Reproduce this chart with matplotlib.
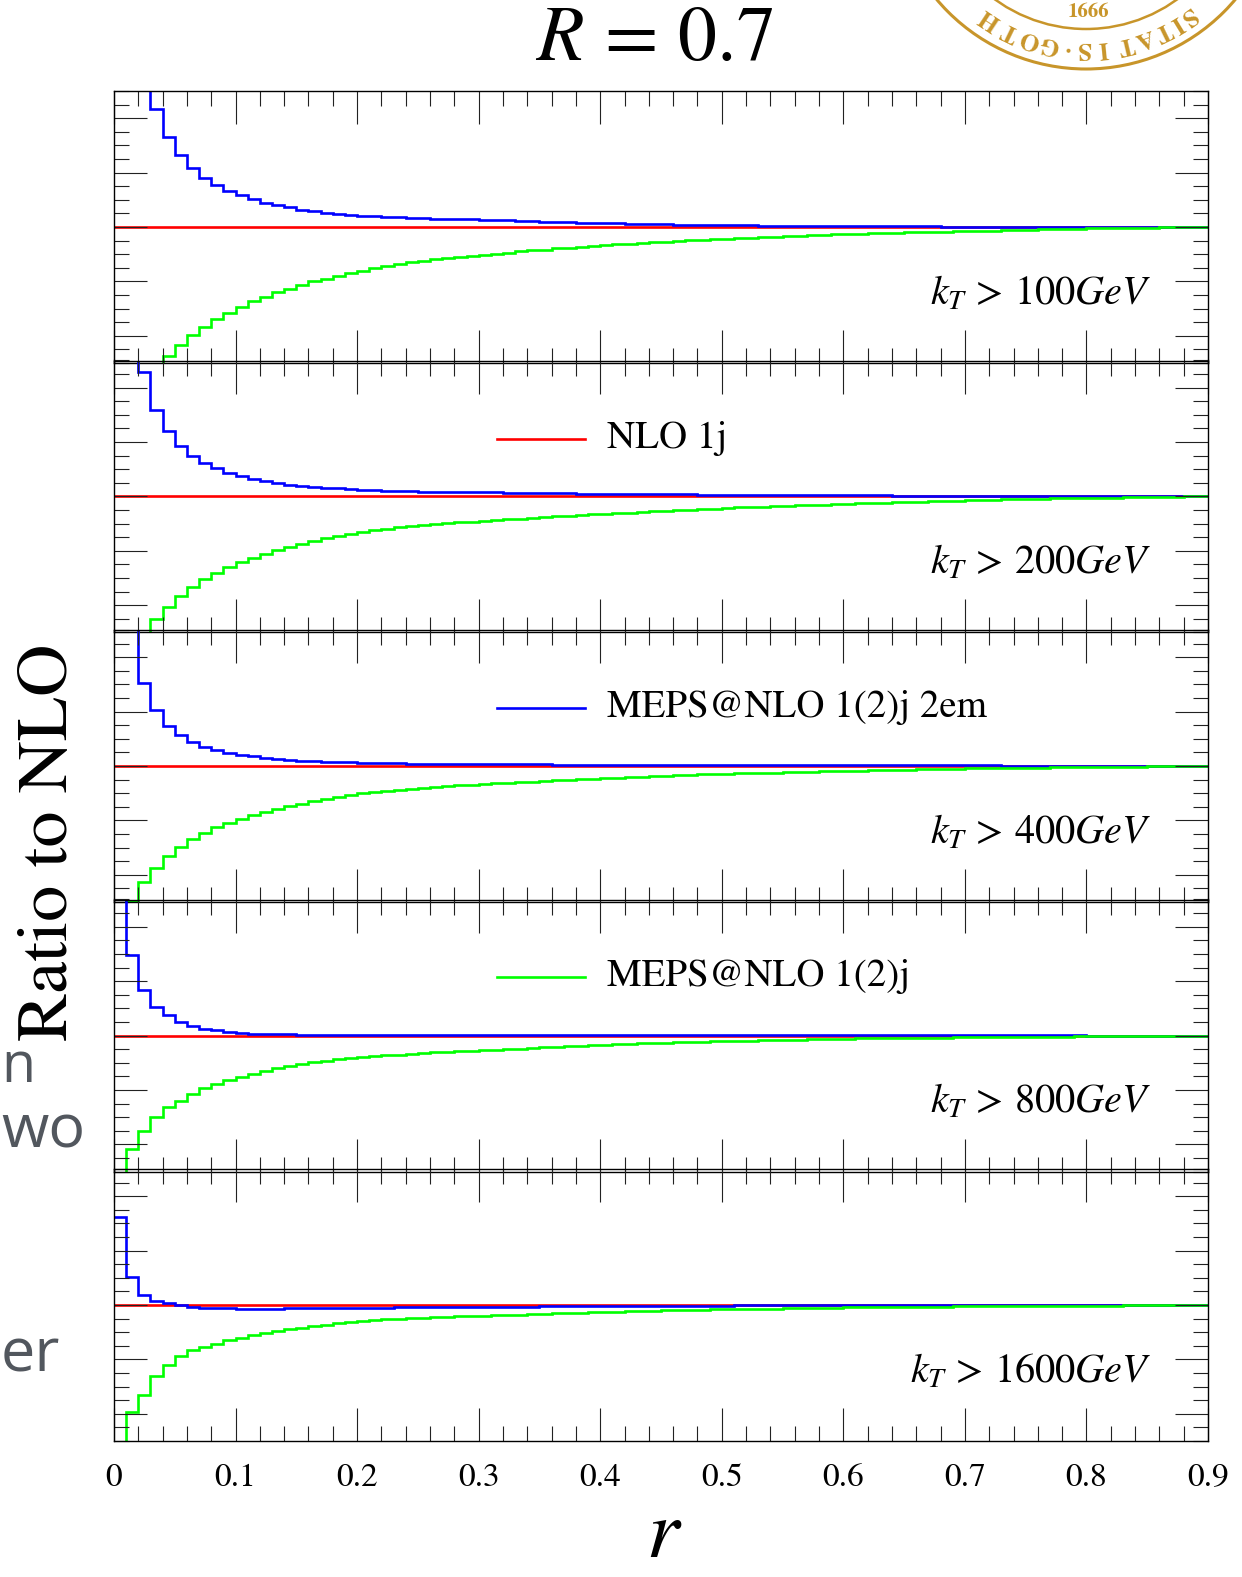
import numpy as np
import matplotlib
matplotlib.use("Agg")
import matplotlib.pyplot as plt
from matplotlib.patches import Arc
from matplotlib.ticker import MultipleLocator, FuncFormatter

plt.rcParams['mathtext.fontset'] = 'stix'
plt.rcParams['font.family'] = ['STIXGeneral', 'DejaVu Serif']

# ---------------- data ----------------
bin_edges = np.round(np.linspace(0.0, 0.9, 91), 3)
kt_cuts = ["100", "200", "400", "800", "1600"]
legend_labels = ["NLO 1j", "MEPS@NLO 1(2)j 2em", "MEPS@NLO 1(2)j"]

nlo_ratio = np.ones(90)

blue_100 = [2.60, 1.95, 1.62, 1.432, 1.331, 1.263, 1.216, 1.180, 1.154, 1.133,
            1.117, 1.102, 1.090, 1.080, 1.072, 1.064, 1.058, 1.053, 1.048, 1.044,
            1.041, 1.039, 1.037, 1.035, 1.034, 1.032, 1.031, 1.030, 1.029, 1.028,
            1.027, 1.025, 1.024, 1.022, 1.021, 1.020, 1.019, 1.018, 1.016, 1.015,
            1.014, 1.013, 1.012, 1.011, 1.011, 1.010, 1.009, 1.009, 1.008, 1.007,
            1.007, 1.006, 1.006, 1.005, 1.005, 1.005, 1.004, 1.004, 1.004, 1.003,
            1.003, 1.003, 1.003, 1.002, 1.002, 1.002, 1.002, 1.002, 1.001, 1.001,
            1.001, 1.001, 1.001, 1.001, 1.001, 1.001, 1.001, 1.001, 1.000, 1.000,
            1.000, 1.000, 1.000, 1.000, 1.000, 1.000, 1.000, 1.000, 1.000, 1.000]
green_100 = [0.20, 0.33, 0.43, 0.49, 0.525, 0.568, 0.602, 0.633, 0.662, 0.685,
             0.707, 0.727, 0.744, 0.760, 0.773, 0.786, 0.800, 0.810, 0.821, 0.831,
             0.840, 0.848, 0.856, 0.864, 0.870, 0.876, 0.881, 0.886, 0.890, 0.894,
             0.898, 0.902, 0.906, 0.910, 0.914, 0.917, 0.921, 0.924, 0.927, 0.930,
             0.933, 0.936, 0.939, 0.941, 0.944, 0.946, 0.949, 0.951, 0.953, 0.955,
             0.957, 0.959, 0.961, 0.963, 0.965, 0.967, 0.968, 0.970, 0.972, 0.973,
             0.975, 0.976, 0.977, 0.978, 0.979, 0.980, 0.981, 0.982, 0.983, 0.984,
             0.985, 0.986, 0.987, 0.988, 0.989, 0.990, 0.991, 0.992, 0.993, 0.994,
             0.995, 0.996, 0.997, 0.997, 0.998, 0.998, 0.999, 0.999, 1.000, 1.000]

blue_200 = [2.40, 1.75, 1.456, 1.319, 1.242, 1.186, 1.149, 1.123, 1.104, 1.088,
            1.075, 1.065, 1.057, 1.049, 1.044, 1.040, 1.036, 1.032, 1.030, 1.027,
            1.025, 1.023, 1.021, 1.020, 1.019, 1.018, 1.017, 1.017, 1.016, 1.016,
            1.015, 1.015, 1.014, 1.014, 1.013, 1.013, 1.012, 1.012, 1.011, 1.011,
            1.010, 1.010, 1.009, 1.009, 1.009, 1.008, 1.008, 1.008, 1.007, 1.007,
            1.007, 1.006, 1.006, 1.006, 1.006, 1.005, 1.005, 1.005, 1.005, 1.005,
            1.004, 1.004, 1.004, 1.004, 1.003, 1.003, 1.003, 1.003, 1.002, 1.002,
            1.002, 1.002, 1.002, 1.001, 1.001, 1.001, 1.001, 1.001, 1.001, 1.001,
            1.001, 1.000, 1.000, 1.000, 1.000, 1.000, 1.000, 1.000, 1.000, 1.000]
green_200 = [0.22, 0.38, 0.48, 0.551, 0.594, 0.635, 0.668, 0.695, 0.720, 0.741,
             0.759, 0.775, 0.790, 0.802, 0.815, 0.826, 0.836, 0.846, 0.854, 0.863,
             0.870, 0.876, 0.882, 0.887, 0.891, 0.895, 0.899, 0.902, 0.905, 0.908,
             0.911, 0.914, 0.917, 0.919, 0.922, 0.925, 0.928, 0.930, 0.933, 0.935,
             0.937, 0.939, 0.941, 0.943, 0.945, 0.947, 0.949, 0.951, 0.953, 0.955,
             0.958, 0.960, 0.961, 0.963, 0.964, 0.966, 0.967, 0.969, 0.970, 0.972,
             0.974, 0.975, 0.976, 0.977, 0.978, 0.980, 0.981, 0.982, 0.983, 0.984,
             0.986, 0.987, 0.988, 0.989, 0.990, 0.991, 0.992, 0.993, 0.993, 0.994,
             0.995, 0.996, 0.996, 0.997, 0.998, 0.998, 0.999, 0.999, 1.000, 1.000]

blue_400 = [2.50, 1.70, 1.304, 1.207, 1.148, 1.114, 1.088, 1.070, 1.057, 1.047,
            1.040, 1.035, 1.030, 1.026, 1.022, 1.020, 1.017, 1.016, 1.014, 1.013,
            1.012, 1.011, 1.010, 1.010, 1.009, 1.009, 1.008, 1.008, 1.008, 1.007,
            1.007, 1.007, 1.006, 1.006, 1.006, 1.006, 1.005, 1.005, 1.005, 1.005,
            1.005, 1.005, 1.004, 1.004, 1.004, 1.004, 1.004, 1.004, 1.004, 1.004,
            1.003, 1.003, 1.003, 1.003, 1.003, 1.003, 1.003, 1.003, 1.003, 1.003,
            1.003, 1.003, 1.002, 1.002, 1.002, 1.002, 1.002, 1.002, 1.002, 1.002,
            1.002, 1.002, 1.002, 1.001, 1.001, 1.001, 1.001, 1.001, 1.001, 1.001,
            1.001, 1.001, 1.000, 1.000, 1.000, 1.000, 1.000, 1.000, 1.000, 1.000]
green_400 = [0.30, 0.503, 0.572, 0.625, 0.668, 0.701, 0.730, 0.754, 0.774, 0.791,
             0.806, 0.820, 0.832, 0.842, 0.852, 0.862, 0.870, 0.878, 0.885, 0.893,
             0.899, 0.904, 0.909, 0.913, 0.917, 0.920, 0.923, 0.926, 0.929, 0.931,
             0.934, 0.936, 0.939, 0.941, 0.943, 0.945, 0.947, 0.949, 0.951, 0.953,
             0.955, 0.957, 0.959, 0.960, 0.962, 0.964, 0.966, 0.967, 0.969, 0.971,
             0.972, 0.973, 0.974, 0.975, 0.976, 0.977, 0.978, 0.979, 0.980, 0.981,
             0.982, 0.983, 0.984, 0.985, 0.986, 0.987, 0.988, 0.989, 0.990, 0.990,
             0.991, 0.992, 0.992, 0.993, 0.993, 0.994, 0.994, 0.995, 0.995, 0.996,
             0.996, 0.997, 0.997, 0.998, 0.998, 0.999, 0.999, 0.999, 1.000, 1.000]

blue_800 = [2.20, 1.295, 1.168, 1.106, 1.075, 1.051, 1.035, 1.025, 1.019, 1.014,
            1.010, 1.007, 1.005, 1.004, 1.004, 1.003, 1.003, 1.003, 1.003, 1.003,
            1.003, 1.003, 1.003, 1.003, 1.003, 1.003, 1.003, 1.003, 1.003, 1.003,
            1.003, 1.003, 1.003, 1.003, 1.003, 1.003, 1.003, 1.003, 1.003, 1.003,
            1.003, 1.003, 1.003, 1.003, 1.003, 1.002, 1.002, 1.002, 1.002, 1.002,
            1.002, 1.002, 1.002, 1.002, 1.002, 1.002, 1.002, 1.002, 1.002, 1.002,
            1.002, 1.002, 1.002, 1.002, 1.002, 1.002, 1.002, 1.002, 1.002, 1.002,
            1.001, 1.001, 1.001, 1.001, 1.001, 1.001, 1.001, 1.001, 1.001, 1.001,
            1.000, 1.000, 1.000, 1.000, 1.000, 1.000, 1.000, 1.000, 1.000, 1.000]
green_800 = [0.35, 0.584, 0.649, 0.699, 0.736, 0.760, 0.785, 0.807, 0.822, 0.836,
             0.848, 0.859, 0.870, 0.879, 0.889, 0.896, 0.903, 0.908, 0.913, 0.917,
             0.921, 0.924, 0.927, 0.930, 0.933, 0.936, 0.938, 0.940, 0.942, 0.944,
             0.946, 0.948, 0.950, 0.952, 0.954, 0.956, 0.958, 0.960, 0.962, 0.964,
             0.966, 0.968, 0.969, 0.971, 0.972, 0.973, 0.975, 0.976, 0.977, 0.978,
             0.979, 0.980, 0.981, 0.982, 0.983, 0.984, 0.985, 0.986, 0.987, 0.987,
             0.988, 0.989, 0.989, 0.990, 0.990, 0.991, 0.991, 0.992, 0.992, 0.993,
             0.993, 0.994, 0.994, 0.995, 0.995, 0.995, 0.996, 0.996, 0.996, 0.997,
             0.997, 0.997, 0.998, 0.998, 0.998, 0.999, 0.999, 0.999, 1.000, 1.000]

blue_1600 = [1.325, 1.102, 1.037, 1.015, 1.009, 1.000, 0.991, 0.989, 0.989, 0.988,
             0.987, 0.987, 0.987, 0.987, 0.988, 0.988, 0.988, 0.989, 0.989, 0.989,
             0.990, 0.990, 0.990, 0.991, 0.991, 0.991, 0.992, 0.992, 0.992, 0.993,
             0.993, 0.993, 0.994, 0.994, 0.994, 0.995, 0.995, 0.995, 0.996, 0.996,
             0.996, 0.997, 0.997, 0.997, 0.997, 0.998, 0.998, 0.998, 0.998, 0.998,
             0.998, 0.999, 0.999, 0.999, 0.999, 0.999, 0.999, 0.999, 0.999, 0.999,
             0.999, 0.999, 0.999, 0.999, 0.999, 0.999, 0.999, 0.999, 0.999, 0.999,
             0.999, 0.999, 0.999, 0.999, 0.999, 1.000, 1.000, 1.000, 1.000, 1.000,
             1.000, 1.000, 1.000, 1.000, 1.000, 1.000, 1.000, 1.000, 1.000, 1.000]
green_1600 = [0.40, 0.607, 0.670, 0.738, 0.781, 0.812, 0.835, 0.847, 0.858, 0.870,
              0.880, 0.889, 0.896, 0.904, 0.911, 0.917, 0.922, 0.928, 0.933, 0.937,
              0.941, 0.944, 0.947, 0.949, 0.951, 0.953, 0.955, 0.957, 0.958, 0.959,
              0.961, 0.962, 0.963, 0.965, 0.966, 0.967, 0.969, 0.970, 0.971, 0.973,
              0.975, 0.976, 0.977, 0.978, 0.979, 0.980, 0.981, 0.982, 0.983, 0.984,
              0.985, 0.986, 0.986, 0.987, 0.987, 0.988, 0.988, 0.989, 0.989, 0.990,
              0.991, 0.991, 0.992, 0.992, 0.993, 0.993, 0.993, 0.994, 0.994, 0.995,
              0.995, 0.995, 0.996, 0.996, 0.996, 0.997, 0.997, 0.997, 0.997, 0.998,
              0.998, 0.998, 0.998, 0.999, 0.999, 0.999, 0.999, 1.000, 1.000, 1.000]

blue_series = [blue_100, blue_200, blue_400, blue_800, blue_1600]
green_series = [green_100, green_200, green_400, green_800, green_1600]

# ---------------- figure ----------------
W, H = 1242, 1577
fig = plt.figure(figsize=(W / 100, H / 100), dpi=100)
fig.patch.set_facecolor('white')

RED, BLUE, GREEN = '#ff0000', '#0000ff', '#00ff00'
LW = 1.9
AX_L, AX_R, AX_T, STEP, PANEL_H = 114, 1208, 91, 269.5, 272


def tick_fmt(v, pos):
    if abs(v) < 1e-9:
        return "0"
    return f"{v:.1f}"


axes = []
for i in range(5):
    top = AX_T + STEP * i
    bot = top + PANEL_H
    ax = fig.add_axes([AX_L / W, 1 - bot / H, (AX_R - AX_L) / W, (bot - top) / H])
    ax.patch.set_alpha(0)
    axes.append(ax)
    ax.stairs(nlo_ratio, bin_edges, baseline=None, color=RED, lw=LW)
    ax.stairs(blue_series[i], bin_edges, baseline=None, color=BLUE, lw=LW)
    ax.stairs(green_series[i], bin_edges, baseline=None, color=GREEN, lw=LW)
    ax.set_xlim(0, 0.9)
    ax.set_ylim(0.5, 1.5)
    ax.xaxis.set_major_locator(MultipleLocator(0.1))
    ax.xaxis.set_minor_locator(MultipleLocator(0.02))
    ax.yaxis.set_major_locator(MultipleLocator(0.2))
    ax.yaxis.set_minor_locator(MultipleLocator(0.05))
    ax.tick_params(which='both', direction='in', top=True, right=True,
                   labelleft=False, labelbottom=(i == 4), color='#222222')
    ax.tick_params(which='major', length=24, width=0.8)
    ax.tick_params(which='minor', length=11, width=0.8)
    ax.tick_params(axis='x', which='major', labelsize=24, pad=16)
    ax.xaxis.set_major_formatter(FuncFormatter(tick_fmt))
    for sp in ax.spines.values():
        sp.set_linewidth(1.0)
    ax.text(0.948, 0.216, r"$k_T\, >\, " + kt_cuts[i] + r"GeV$", transform=ax.transAxes,
            ha='right', va='baseline', fontsize=29)

# legend entries, one per panel (panels 2-4)
leg_colors = [RED, BLUE, GREEN]
leg_y = [0.712, 0.714, 0.716]
for j in range(3):
    ax = axes[j + 1]
    x0 = (497 - AX_L) / (AX_R - AX_L)
    x1 = (585 - AX_L) / (AX_R - AX_L)
    xt = (607 - AX_L) / (AX_R - AX_L)
    ax.plot([x0, x1], [leg_y[j], leg_y[j]], transform=ax.transAxes, color=leg_colors[j], lw=LW)
    ax.text(xt, leg_y[j], legend_labels[j], transform=ax.transAxes, ha='left', va='center',
            fontsize=28)

# titles and labels
fig.text(654 / W, 1 - 42 / H, r"$R\, =\, 0.7$", ha='center', va='center', fontsize=56)
fig.text(50 / W, 1 - 842 / H, "Ratio to NLO", ha='center', va='center', rotation=90, fontsize=52)
fig.text(664 / W, 1 - 1575 / H, r"$r$", ha='center', va='bottom', fontsize=60)

# ---------------- background decorations (slide residue) ----------------
ov = fig.add_axes([0, 0, 1, 1], zorder=-5)
ov.set_xlim(0, W)
ov.set_ylim(H, 0)
ov.axis('off')
GOLD = '#c8952a'
cx, cy = 1086, -126
for rad, lw in [(195, 2.2), (155, 1.8)]:
    ov.add_patch(Arc((cx, cy), 2 * rad, 2 * rad, angle=0, theta1=0, theta2=180,
                     color=GOLD, lw=lw))
seal_letters = ["S", "I", "T", "A", "T", "I", "S", "\u00b7", "G", "O", "T", "H"]
seal_angles = [36.0, 31.5, 26.0, 19.6, 13.2, 5.8, -0.8, -6.3, -12.1, -18.6, -26.0, -33.5]
R_txt = 174
for ch, ang in zip(seal_letters, seal_angles):
    a = np.deg2rad(ang)
    x = cx + R_txt * np.sin(a)
    y = cy + R_txt * np.cos(a)
    ov.text(x, y, ch, ha='center', va='center', rotation=180 + ang, color=GOLD,
            fontsize=18, fontweight='bold')
ov.text(1088, 12, "1666", ha='center', va='center', color=GOLD, fontsize=15, fontweight='bold')

GREY = '#52575e'
for s, xl, yb, fs in [("n", 1, 1082, 40), ("wo", 1, 1148, 44), ("er", 1, 1372, 44)]:
    ov.text(xl, yb, s, ha='left', va='baseline', color=GREY, fontsize=fs,
            family=['Open Sans', 'DejaVu Sans'])

fig.savefig("out.png", dpi=100, facecolor='white')
